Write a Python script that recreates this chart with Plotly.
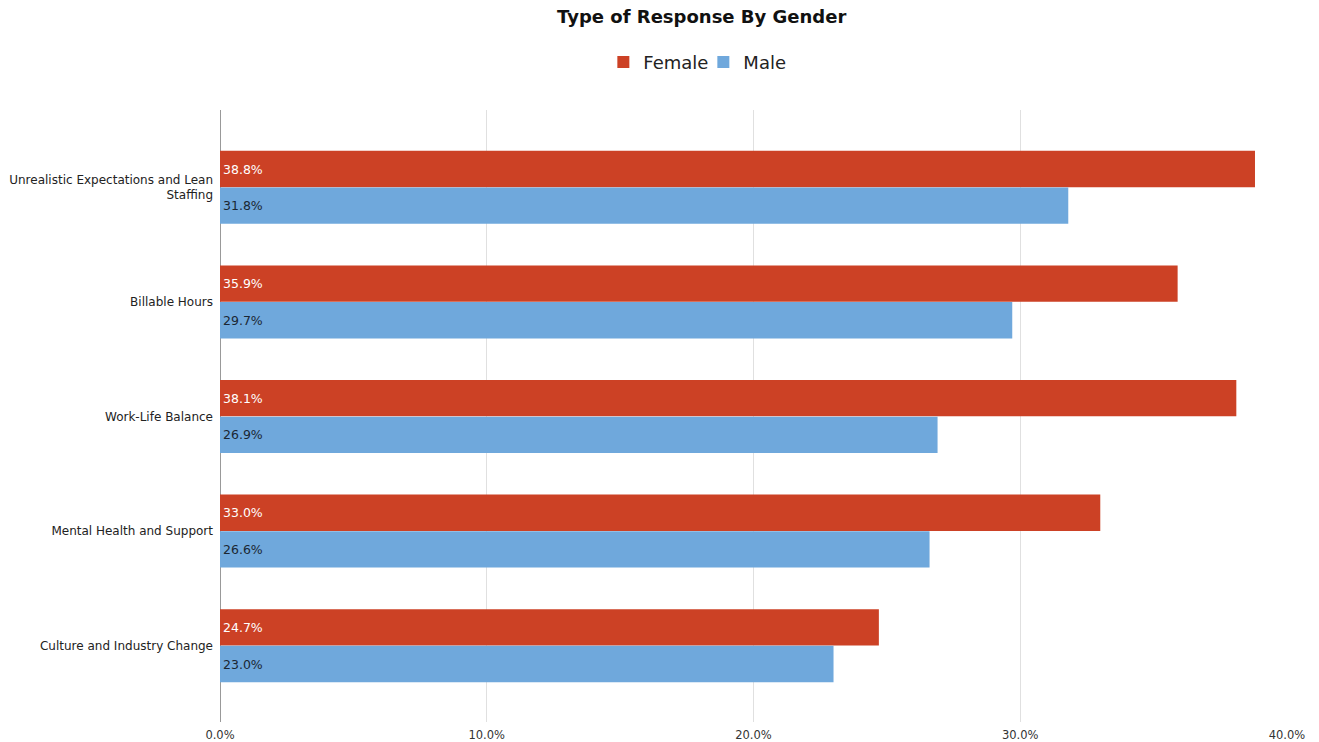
import plotly.graph_objects as go

categories = [
    "Unrealistic Expectations and Lean<br>Staffing",
    "Billable Hours",
    "Work-Life Balance",
    "Mental Health and Support",
    "Culture and Industry Change",
]
female = [38.8, 35.9, 38.1, 33.0, 24.7]
male = [31.8, 29.7, 26.9, 26.6, 23.0]
x_ticks = [0, 10, 20, 30, 40]

FONT = "DejaVu Sans"
RED = "#cc4125"
BLUE = "#6fa8dc"

fig = go.Figure()
fig.add_trace(go.Bar(
    name="Female", y=categories, x=female, orientation="h",
    marker=dict(color=RED, line=dict(width=0)),
    text=[f"{v:.1f}%" for v in female], textposition="inside",
    insidetextanchor="start", textangle=0,
    textfont=dict(family=FONT, size=12.5, color="#ffffff"),
))
fig.add_trace(go.Bar(
    name="Male", y=categories, x=male, orientation="h",
    marker=dict(color=BLUE, line=dict(width=0)),
    text=[f"{v:.1f}%" for v in male], textposition="inside",
    insidetextanchor="start", textangle=0,
    textfont=dict(family=FONT, size=12.5, color="#1b2733"),
))

fig.update_layout(
    width=1319, height=742,
    margin=dict(l=220, r=32, t=110, b=20, autoexpand=False),
    paper_bgcolor="white", plot_bgcolor="white",
    barmode="group", bargap=0.36, bargroupgap=0.01,
    font=dict(family=FONT, color="#222222"),
    title=dict(text="<b>Type of Response By Gender</b>", x=0.532, xanchor="center",
               y=0.977, yanchor="middle", font=dict(family=FONT, size=18, color="#111111")),
    legend=dict(orientation="h", x=0.453, xanchor="center", y=1.078, yanchor="middle",
                font=dict(family=FONT, size=18, color="#222222"), traceorder="normal",
                itemwidth=30, entrywidth=55, entrywidthmode="pixels"),
    uniformtext=dict(minsize=8, mode="show"),
)
fig.update_xaxes(
    range=[0, 40], tickvals=x_ticks, ticktext=[f"{v:.1f}%" for v in x_ticks],
    showgrid=True, gridcolor="#e0e0e0", gridwidth=1,
    zeroline=True, zerolinecolor="#999999", zerolinewidth=1,
    tickfont=dict(family=FONT, size=11.5, color="#333333"),
    ticks="", ticklabelstandoff=4, automargin=False,
)
fig.update_yaxes(
    type="category", categoryorder="array", categoryarray=categories,
    range=[4.666, -0.675], showgrid=False,
    tickfont=dict(family=FONT, size=12, color="#222222"),
    ticks="", ticklabelstandoff=6, automargin=False,
)

fig.write_html("out.html")
